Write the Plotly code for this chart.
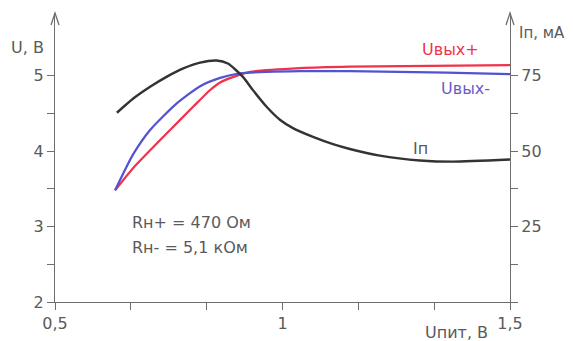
"""Выходные напряжения и ток потребления в зависимости от Uпит."""

import plotly.graph_objects as go

# -- Данные -------------------------------------------------------------------

u_pit_plus = [0.632, 0.671, 0.753, 0.804, 0.841, 0.863, 0.891, 0.929, 1.038,
              1.148, 1.5]
u_out_plus = [3.48, 3.77, 4.28, 4.59, 4.81, 4.91, 4.98, 5.05, 5.10,
              5.12, 5.14]

u_pit_minus = [0.632, 0.671, 0.709, 0.767, 0.819, 0.863, 0.907, 0.965, 1.038,
               1.148, 1.361, 1.5]
u_out_minus = [3.48, 3.95, 4.28, 4.63, 4.86, 4.97, 5.03, 5.05, 5.06,
               5.06, 5.04, 5.02]

u_pit_ip = [0.636, 0.672, 0.709, 0.745, 0.782, 0.819, 0.855, 0.880, 0.913,
            0.935, 0.965, 0.995, 1.023, 1.067, 1.111, 1.148, 1.214, 1.302,
            1.375, 1.5]
ip_ma = [62.7, 67.4, 71.3, 74.6, 77.4, 79.3, 80.0, 79.0, 74.6,
         70.2, 64.7, 60.3, 57.6, 54.7, 52.3, 50.7, 48.5, 46.9,
         46.5, 47.2]

x_ticks = [0.5, 0.5 + 1 / 6, 0.5 + 2 / 6, 1.0, 1.0 + 1 / 6, 1.0 + 2 / 6, 1.5]
x_labels = ["0,5", "", "", "1", "", "", "1,5"]
u_ticks = [2, 2.5, 3, 3.5, 4, 4.5, 5]
u_labels = ["2", "", "3", "", "4", "", "5"]
ip_ticks = [0, 12.5, 25, 37.5, 50, 62.5, 75]
ip_labels = ["", "", "25", "", "50", "", "75"]

# -- Стиль ----------------------------------------------------------------------

GRAY = "#5a5a5a"
AXIS = "#6e6e6e"
RED = "#f0324b"
BLUE = "#5252d2"
BLACK = "#333333"
FONT = "DejaVu Sans"

X_MIN, X_MAX = 0.5, 1.5
U_MIN, U_MAX = 2.0, 5.83
IP_MAX = (U_MAX - U_MIN) * 25  # 5 В ↔ 75 мА

# Страница имеет отступ body 8px — график сдвинут, размеры уменьшены.
OFF = 8
W, H = 573 - OFF, 341 - OFF
L, R, T, B = 55 - OFF, 63, 13 - OFF, 39
PW, PH = W - L - R, H - T - B

fig = go.Figure()
fig.add_trace(go.Scatter(
    x=u_pit_ip, y=ip_ma, yaxis="y2", mode="lines",
    line={"color": BLACK, "width": 2.4, "shape": "spline", "smoothing": 0.6},
))
fig.add_trace(go.Scatter(
    x=u_pit_plus, y=u_out_plus, mode="lines",
    line={"color": RED, "width": 2.2, "shape": "spline", "smoothing": 0.6},
))
fig.add_trace(go.Scatter(
    x=u_pit_minus, y=u_out_minus, mode="lines",
    line={"color": BLUE, "width": 2.2, "shape": "spline", "smoothing": 0.6},
))

axis_common = dict(
    showgrid=False, zeroline=False, showline=True, automargin=False,
    linecolor=AXIS, linewidth=1.3,
    ticks="outside", ticklen=7, tickwidth=1.3, tickcolor=AXIS,
    tickfont={"family": FONT, "size": 16, "color": GRAY},
)

fig.update_layout(
    width=W, height=H,
    margin={"l": L, "r": R, "t": T, "b": B},
    paper_bgcolor="white", plot_bgcolor="white",
    showlegend=False,
    xaxis=dict(axis_common, range=[X_MIN, X_MAX],
               tickvals=x_ticks, ticktext=x_labels),
    yaxis=dict(axis_common, range=[U_MIN, U_MAX],
               tickvals=u_ticks, ticktext=u_labels),
    yaxis2=dict(axis_common, range=[0, IP_MAX], overlaying="y", side="right",
                tickvals=ip_ticks, ticktext=ip_labels),
)


# Координаты подписей задаются в пикселях окна (как на исходнике)
def px_x(px):
    return (px - OFF - L) / PW


def px_y(py):
    return (H - B - (py - OFF)) / PH


# Стрелки на концах вертикальных осей
for ax in (55, 510):
    fig.add_shape(
        type="path", xref="paper", yref="paper",
        path=(f"M {px_x(ax - 4)} {px_y(25)} L {px_x(ax)} {px_y(13)} "
              f"L {px_x(ax + 4)} {px_y(25)}"),
        line={"color": AXIS, "width": 1.3},
    )


def label(text, x, y, color=GRAY, xanchor="center", size=16):
    fig.add_annotation(
        text=text, x=px_x(x), y=px_y(y), xref="paper", yref="paper",
        showarrow=False, xanchor=xanchor, yanchor="middle",
        font={"family": FONT, "size": size, "color": color},
    )


label("U, В", 27, 47)
label("Iп, мА", 517, 33, xanchor="left", size=15)
label("Uвых+", 450, 50, color=RED)
label("Uвых-", 465, 88, color="#6a5cc8")
label("Iп", 420, 148)
label("Rн+ = 470 Ом", 130, 222, xanchor="left")
label("Rн- = 5,1 кОм", 130, 247, xanchor="left")
label("Uпит, В", 456, 332)

fig.write_html("out.html")
